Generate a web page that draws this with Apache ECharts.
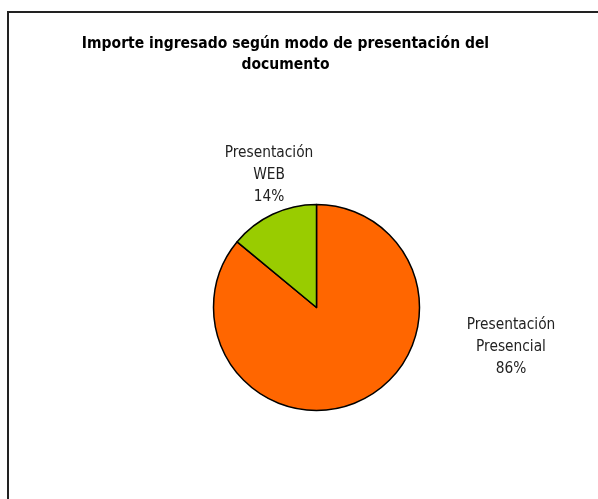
<!DOCTYPE html>
<html>
<head>
<meta charset="utf-8">
<script src="https://cdn.jsdelivr.net/npm/echarts@6/dist/echarts.min.js"></script>
<style>
  html, body { margin: 0; padding: 0; background: #fff; }
  #chart { width: 598px; height: 499px; }
</style>
</head>
<body>
<div id="chart"></div>
<script>
const categories = ["Presentación\nPresencial", "Presentación\nWEB"];
const shares = [86, 14];
const colors = ["#FF6600", "#99CC00"];

// where each label block sits (centre of middle line)
const labelSpots = [[511, 347], [269, 175]];

const chart = echarts.init(document.getElementById("chart"));

const fontFam = "'Liberation Sans Narrow', 'DejaVu Sans Condensed', 'Liberation Sans', sans-serif";

const option = {
  backgroundColor: "#fff",
  animation: false,
  title: {
    text: "Importe ingresado según modo de presentación del\ndocumento",
    left: 280.5,
    top: 28,
    textAlign: "center",
    textStyle: {
      fontFamily: fontFam,
      fontWeight: "bold",
      fontSize: 15.5,
      lineHeight: 21,
      color: "#000",
    },
  },
  graphic: [
    {
      type: "rect",
      shape: { x: 8, y: 12, width: 800, height: 700 },
      style: { fill: "none", stroke: "#222", lineWidth: 2 },
      silent: true,
    },
  ],
  series: [
    {
      type: "pie",
      center: [316.5, 307.5],
      radius: 103,
      startAngle: 90,
      clockwise: true,
      data: categories.map((name, i) => ({
        name: name,
        value: shares[i],
        itemStyle: { color: colors[i] },
      })),
      itemStyle: { borderColor: "#000", borderWidth: 1.5 },
      label: {
        show: true,
        position: "outside",
        formatter: (p) => p.name + "\n" + p.value + "%",
        fontFamily: fontFam,
        fontSize: 15.3,
        lineHeight: 22,
        color: "#222",
        align: "center",
      },
      labelLine: { show: false },
      labelLayout: (p) => ({
        x: labelSpots[p.dataIndex][0],
        y: labelSpots[p.dataIndex][1],
        align: "center",
        verticalAlign: "middle",
      }),
      emphasis: { disabled: true },
    },
  ],
};

chart.setOption(option);
</script>
</body>
</html>
